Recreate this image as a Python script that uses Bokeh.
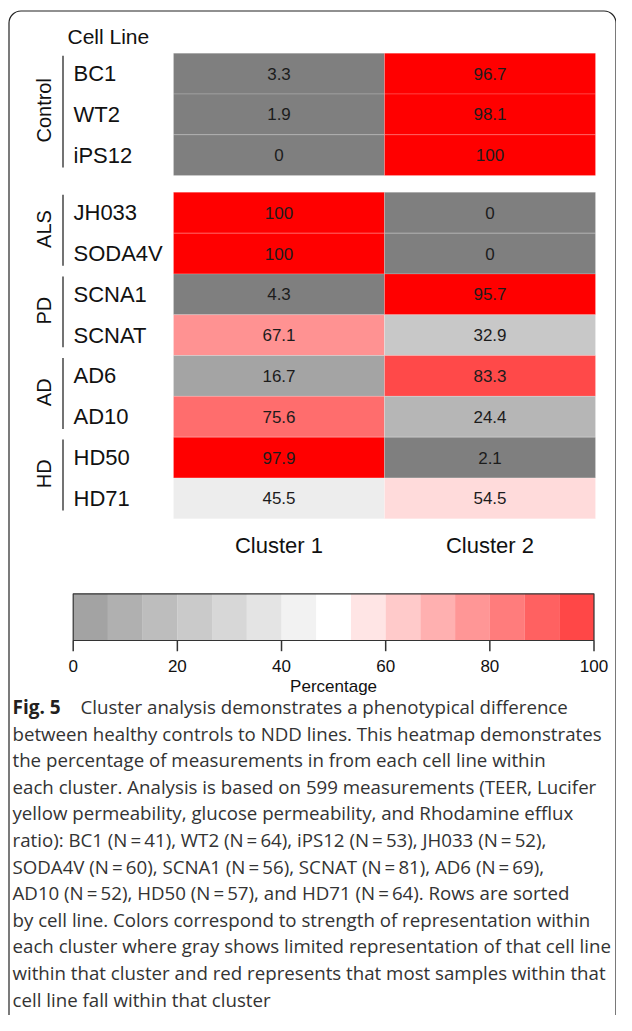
import numpy as np
from bokeh.plotting import figure
from bokeh.models import Range1d, ColumnDataSource, LinearColorMapper
from bokeh.transform import transform
from bokeh.core.properties import value
from bokeh.embed import file_html
from bokeh.resources import INLINE

# ---------------- data ----------------
cell_lines = ["BC1", "WT2", "iPS12", "JH033", "SODA4V", "SCNA1", "SCNAT",
              "AD6", "AD10", "HD50", "HD71"]
groups = ["Control", "Control", "Control", "ALS", "ALS", "PD", "PD",
          "AD", "AD", "HD", "HD"]
cluster_names = ["Cluster 1", "Cluster 2"]
cluster1 = [3.3, 1.9, 0, 100, 100, 4.3, 67.1, 16.7, 75.6, 97.9, 45.5]
cluster2 = [96.7, 98.1, 100, 0, 0, 95.7, 32.9, 83.3, 24.4, 2.1, 54.5]
cbar_ticks = [0, 20, 40, 60, 80, 100]
cbar_title = "Percentage"
row_title = "Cell Line"
caption_head = "Fig. 5"
caption_lines = [
    "Cluster analysis demonstrates a phenotypical difference",
    "between healthy controls to NDD lines. This heatmap demonstrates",
    "the percentage of measurements in from each cell line within",
    "each cluster. Analysis is based on 599 measurements (TEER, Lucifer",
    "yellow permeability, glucose permeability, and Rhodamine efflux",
    "ratio): BC1 (N\u2009=\u200941), WT2 (N\u2009=\u200964), iPS12 (N\u2009=\u200953), JH033 (N\u2009=\u200952),",
    "SODA4V (N\u2009=\u200960), SCNA1 (N\u2009=\u200956), SCNAT (N\u2009=\u200981), AD6 (N\u2009=\u200969),",
    "AD10 (N\u2009=\u200952), HD50 (N\u2009=\u200957), and HD71 (N\u2009=\u200964). Rows are sorted",
    "by cell line. Colors correspond to strength of representation within",
    "each cluster where gray shows limited representation of that cell line",
    "within that cluster and red represents that most samples within that",
    "cell line fall within that cluster",
]

# ---------------- style / layout (pixels) ----------------
W, H = 616, 1015
HEAT_LEFT, CELL_W = 173.0, 211.0
HEAT_TOP, ROW_H = 52.7, 40.8
GAP = 0.41               # gap (in rows) between healthy controls and NDD lines
CB_LEFT, CB_RIGHT = 72.7, 593.5
CB_TOP, CB_BOT, CB_TICK = 593.3, 640.0, 650.7
N_BINS = 15
LOW, HIGH = 0, 100

def ramp(n):
    gray, white, red = np.array([127, 127, 127]), np.array([255, 255, 255]), np.array([255, 0, 0])
    out = []
    for t in np.linspace(0, 1, n):
        if t <= 0.5:
            c = gray + (white - gray) * (t / 0.5)
        else:
            c = white + (red - white) * ((t - 0.5) / 0.5)
        c = np.round(c).astype(int)
        out.append("#%02x%02x%02x" % tuple(c))
    return out

palette = ramp(N_BINS)
mapper = LinearColorMapper(palette=palette, low=LOW, high=HIGH)

p = figure(width=W, height=H, x_range=Range1d(0, W), y_range=Range1d(H, 0),
           min_border=0, toolbar_location=None, output_backend="svg",
           x_axis_type=None, y_axis_type=None, outline_line_color=None)
p.grid.visible = False
p.background_fill_color = "white"
p.border_fill_color = "white"

p.extra_x_ranges = {
    "heat": Range1d(-HEAT_LEFT / CELL_W, (W - HEAT_LEFT) / CELL_W),
    "cbar": Range1d(LOW - (HIGH - LOW) * CB_LEFT / (CB_RIGHT - CB_LEFT),
                    LOW + (HIGH - LOW) * (W - CB_LEFT) / (CB_RIGHT - CB_LEFT)),
}
p.extra_y_ranges = {"heat": Range1d((H - HEAT_TOP) / ROW_H, -HEAT_TOP / ROW_H)}

# border
p.quad(left=[8.5], right=[W - 0.5], top=[10.5], bottom=[H + 12], fill_color=None,
       line_color="#222222", line_width=1.2, border_radius=12)

# ---------------- heatmap ----------------
first_group = groups[0]
pos = [i + (GAP if g != first_group else 0) for i, g in enumerate(groups)]

xs, ys, vals, txt = [], [], [], []
for ci, series in enumerate([cluster1, cluster2]):
    for ri, v in enumerate(series):
        xs.append(ci + 0.5)
        ys.append(pos[ri] + 0.5)
        vals.append(v)
        txt.append(f"{v:g}")
heat = ColumnDataSource(dict(x=xs, y=ys, val=vals, txt=txt))

p.rect(x="x", y="y", width=1, height=1, source=heat,
       fill_color=transform("val", mapper), line_color="white", line_alpha=0.18,
       line_width=1, x_range_name="heat", y_range_name="heat")
p.text(x="x", y="y", text="txt", source=heat, text_align="center",
       text_baseline="middle", text_font=value("Liberation Sans"),
       text_font_size="17px", text_color="#1c1c1c",
       x_range_name="heat", y_range_name="heat")

# row labels
rows = ColumnDataSource(dict(x=[73] * len(cell_lines), y=[q + 0.5 for q in pos], t=cell_lines))
p.text(x="x", y="y", text="t", source=rows, text_align="left", text_baseline="middle",
       text_font=value("Liberation Sans"), text_font_size="22px", text_color="#111111",
       y_range_name="heat")

# row title
p.text(x=[67], y=[36], text=[row_title], text_align="left", text_baseline="middle",
       text_font=value("Liberation Sans"), text_font_size="21px", text_color="#111111")

# group labels + bars
uniq = []
for g in groups:
    if g not in uniq:
        uniq.append(g)
gy, gt, l0, l1 = [], [], [], []
for g in uniq:
    idx = [i for i, gg in enumerate(groups) if gg == g]
    top, bot = pos[idx[0]], pos[idx[-1]] + 1
    gy.append((top + bot) / 2 - 0.1)
    gt.append(g)
    l0.append(top + 0.06)
    l1.append(bot - 0.2)
p.text(x=[43] * len(gt), y=gy, text=gt, angle=np.pi / 2, text_align="center",
       text_baseline="middle", text_font=value("Liberation Sans"),
       text_font_size="20px", text_color="#111111", y_range_name="heat")
p.segment(x0=[62.5] * len(gt), y0=l0, x1=[62.5] * len(gt), y1=l1,
          line_color="#444444", line_width=1.5, y_range_name="heat")

# cluster labels
p.text(x=[i + 0.5 for i in range(len(cluster_names))], y=[545] * len(cluster_names),
       text=cluster_names, text_align="center", text_baseline="middle",
       text_font=value("Liberation Sans"), text_font_size="22px", text_color="#111111",
       x_range_name="heat")

# ---------------- colour key ----------------
edges = np.linspace(LOW, HIGH, N_BINS + 1)
p.quad(left=edges[:-1], right=edges[1:], top=[CB_TOP] * N_BINS, bottom=[CB_BOT] * N_BINS,
       fill_color=palette, fill_alpha=0.72, line_color=None, x_range_name="cbar")
p.quad(left=[LOW], right=[HIGH], top=[CB_TOP], bottom=[CB_BOT], fill_color=None,
       line_color="#333333", line_width=1.2, x_range_name="cbar")
p.segment(x0=cbar_ticks, y0=[CB_BOT] * len(cbar_ticks), x1=cbar_ticks,
          y1=[CB_TICK] * len(cbar_ticks), line_color="#333333", line_width=1.5,
          x_range_name="cbar")
p.text(x=cbar_ticks, y=[665] * len(cbar_ticks), text=[str(t) for t in cbar_ticks],
       text_align="center", text_baseline="middle", text_font=value("Liberation Sans"),
       text_font_size="17px", text_color="#111111", x_range_name="cbar")
p.text(x=[(LOW + HIGH) / 2], y=[686], text=[cbar_title], text_align="center",
       text_baseline="middle", text_font=value("Liberation Sans"),
       text_font_size="17px", text_color="#111111", x_range_name="cbar")

# ---------------- caption ----------------
CAP_X, CAP_Y0, CAP_DY = 12, 706, 26.6
p.text(x=[CAP_X], y=[CAP_Y0], text=[caption_head], text_align="left",
       text_baseline="middle", text_font=value("Open Sans"), text_font_style="bold",
       text_font_size="19px", text_color="#231f20")
cx = [80] + [CAP_X] * (len(caption_lines) - 1)
cy = [CAP_Y0 + k * CAP_DY for k in range(len(caption_lines))]
p.text(x=cx, y=cy, text=caption_lines, text_align="left", text_baseline="middle",
       text_font=value("Open Sans"), text_font_size="18.7px", text_color="#333333")

open("out.html", "w").write(file_html(p, INLINE))
